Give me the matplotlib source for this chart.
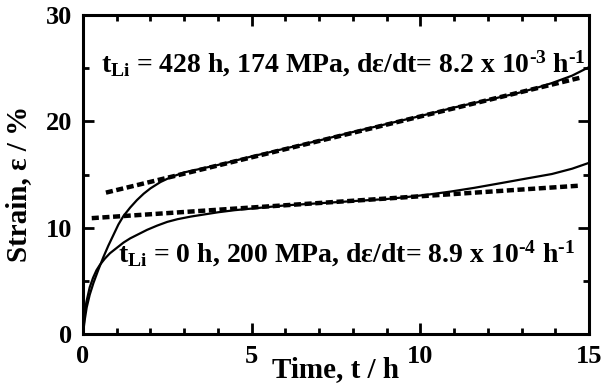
import matplotlib
matplotlib.use('Agg')
import matplotlib.pyplot as plt
from matplotlib.ticker import MultipleLocator

plt.rcParams['font.family'] = 'Liberation Serif'
plt.rcParams['font.weight'] = 'bold'
plt.rcParams['mathtext.fontset'] = 'custom'
plt.rcParams['mathtext.rm'] = 'Liberation Serif:bold'
plt.rcParams['mathtext.it'] = 'Liberation Serif:bold'
plt.rcParams['mathtext.bf'] = 'Liberation Serif:bold'

# creep curve, t_Li = 0 h, 200 MPa
t_0h = [0, 0.05, 0.1, 0.2, 0.3, 0.4, 0.5, 0.65, 0.8, 1.0, 1.2, 1.4, 1.65, 1.9, 2.2,
        2.5, 2.8, 3.2, 3.6, 4.0, 4.5, 5.0, 6.0, 7.0, 8.0, 9.0, 9.5, 10.2, 10.9,
        11.6, 12.4, 13.1, 13.9, 14.5, 15.0]
s_0h = [0, 1.8, 3.0, 4.4, 5.3, 6.0, 6.5, 7.1, 7.6, 8.1, 8.6, 9.0, 9.4, 9.8, 10.2,
        10.55, 10.8, 11.05, 11.25, 11.45, 11.65, 11.8, 12.1, 12.3, 12.5, 12.7, 12.85,
        13.1, 13.4, 13.75, 14.2, 14.6, 15.05, 15.55, 16.1]

# creep curve, t_Li = 428 h, 174 MPa
t_428h = [0, 0.05, 0.11, 0.2, 0.31, 0.45, 0.6, 0.75, 0.9, 1.05, 1.2, 1.4, 1.6, 1.8,
          2.0, 2.3, 2.6, 3.0, 3.5, 4.0, 5.0, 6.0, 7.0, 8.0, 9.0, 10.0, 11.0,
          12.4, 13.0, 13.5, 13.9, 14.5, 15.0]
s_428h = [0, 1.3, 2.5, 3.7, 4.8, 6.0, 7.2, 8.3, 9.3, 10.3, 11.1, 11.9, 12.6, 13.2,
          13.7, 14.3, 14.75, 15.2, 15.55, 15.9, 16.7, 17.45, 18.2, 19.0, 19.75, 20.5,
          21.3, 22.3, 22.75, 23.2, 23.6, 24.3, 25.1]

# linear (steady-state) fits, end points
fit_0h_t = [0.26, 14.7]
fit_0h_s = [10.9, 13.95]
fit_428h_t = [0.68, 14.8]
fit_428h_s = [13.3, 24.15]

fig = plt.figure(figsize=(6.03, 3.88), dpi=100)
ax = fig.add_axes([0.1376, 0.139, 0.8392, 0.8223])

ax.plot(t_0h, s_0h, color='black', lw=1.6)
ax.plot(t_428h, s_428h, color='black', lw=1.6)
ax.plot(fit_0h_t, fit_0h_s, color='black', lw=3.2, dashes=(1.6, 0.8))
ax.plot(fit_428h_t, fit_428h_s, color='black', lw=3.2, dashes=(1.6, 0.8))

ax.set_xlim(0, 15)
ax.set_ylim(0, 30)
ax.xaxis.set_major_locator(MultipleLocator(5))
ax.xaxis.set_minor_locator(MultipleLocator(1))
ax.yaxis.set_major_locator(MultipleLocator(10))
ax.yaxis.set_minor_locator(MultipleLocator(5))
ax.tick_params(which='both', direction='in', top=True, right=True, width=2)
ax.tick_params(which='major', length=8, labelsize=19, pad=8)
ax.tick_params(which='minor', length=4)
for sp in ax.spines.values():
    sp.set_linewidth(2.2)

ax.set_xlabel('Time, t / h', fontsize=21, fontweight='bold')
ax.xaxis.set_label_coords(0.5, -0.07)
ax.set_ylabel('Strain, ε / %', fontsize=21, fontweight='bold')
ax.yaxis.set_label_coords(-0.1, 0.47)

ax.text(0.035, 0.82, '$t_{Li}$ = 428 h, 174 MPa, dε/dt= 8.2 x 10$^{\u20103}$ h$^{\u20101}$',
        transform=ax.transAxes, fontsize=20, fontweight='bold', ha='left', va='baseline')
ax.text(0.07, 0.225, '$t_{Li}$ = 0 h, 200 MPa, dε/dt= 8.9 x 10$^{\u20104}$ h$^{\u20101}$',
        transform=ax.transAxes, fontsize=20, fontweight='bold', ha='left', va='baseline')

fig.savefig('out.png', dpi=100)
